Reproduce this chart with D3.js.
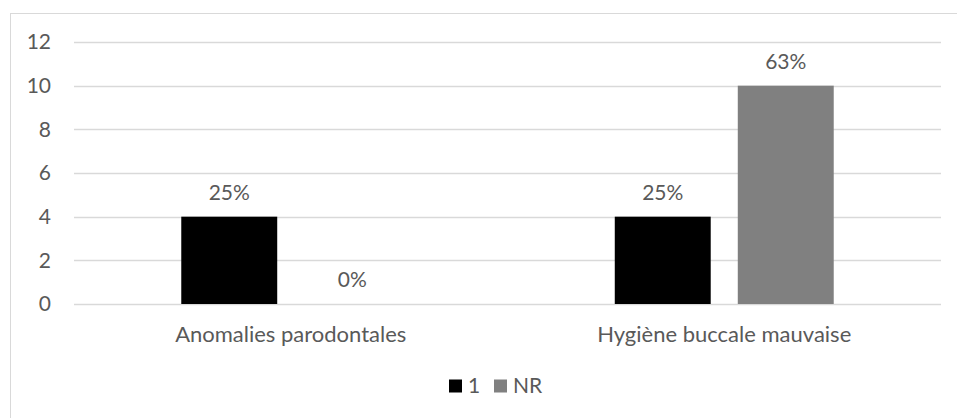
<!DOCTYPE html>
<html>
<head>
<meta charset="utf-8">
<script src="https://cdn.jsdelivr.net/npm/d3@7"></script>
<style>
  body { margin: 0; background: #fff; }
  text { font-family: Lato, "Open Sans", sans-serif; fill: #595959; }
</style>
</head>
<body>
<script>
// Data
var categories = ["Anomalies parodontales", "Hygiène buccale mauvaise"];
var seriesNames = ["1", "NR"];
var seriesColors = ["#000000", "#808080"];
var values1 = [4, 4];
var valuesNR = [0, 10];
var labels1 = ["25%", "25%"];
var labelsNR = ["0%", "63%"];
var yTicks = [0, 2, 4, 6, 8, 10, 12];

var W = 957, H = 418;
var margin = {top: 42, right: 16, bottom: 114, left: 74};
var width = W - margin.left - margin.right,
    height = H - margin.top - margin.bottom;
var fs = "21px";

var svg = d3.select("body").append("svg")
    .attr("width", W)
    .attr("height", H);

// chart border
svg.append("rect")
    .attr("x", 10.5).attr("y", 13.5)
    .attr("width", W).attr("height", H)
    .attr("fill", "none")
    .attr("stroke", "#d9d9d9")
    .attr("stroke-width", 1);

var g = svg.append("g")
    .attr("transform", `translate(${margin.left},${margin.top})`);

var x0 = d3.scaleBand().domain(categories).range([0, width]).padding(0);
var x1 = d3.scaleBand().domain(seriesNames)
    .range([0, x0.bandwidth()])
    .paddingInner(0.22)
    .paddingOuter(0.872);
var y = d3.scaleLinear().domain([0, 12]).range([height, 0]);

// gridlines
g.selectAll(".grid")
    .data(yTicks)
    .enter().append("line")
    .attr("x1", 0).attr("x2", width)
    .attr("y1", d => Math.round(y(d)) + 0.5)
    .attr("y2", d => Math.round(y(d)) + 0.5)
    .attr("stroke", "#d9d9d9")
    .attr("stroke-width", 1.3);

// y tick labels
g.selectAll(".ytick")
    .data(yTicks)
    .enter().append("text")
    .attr("x", -23)
    .attr("y", d => y(d))
    .attr("dy", "0.35em")
    .attr("text-anchor", "end")
    .style("font-size", fs)
    .text(d => d);

// build rows
var rows = categories.map((c, i) => ({
    cat: c,
    bars: [
        {s: "1", v: values1[i], label: labels1[i], color: seriesColors[0]},
        {s: "NR", v: valuesNR[i], label: labelsNR[i], color: seriesColors[1]}
    ]
}));

var groups = g.selectAll(".cat")
    .data(rows)
    .enter().append("g")
    .attr("transform", d => `translate(${x0(d.cat)},0)`);

groups.selectAll("rect")
    .data(d => d.bars)
    .enter().append("rect")
    .attr("x", d => x1(d.s))
    .attr("y", d => y(d.v))
    .attr("width", x1.bandwidth())
    .attr("height", d => height - y(d.v))
    .attr("fill", d => d.color);

groups.selectAll(".vlabel")
    .data(d => d.bars)
    .enter().append("text")
    .attr("x", d => x1(d.s) + x1.bandwidth() / 2)
    .attr("y", d => y(d.v) - 24)
    .attr("dy", "0.35em")
    .attr("text-anchor", "middle")
    .style("font-size", fs)
    .text(d => d.label);

// category labels
g.selectAll(".xlabel")
    .data(categories)
    .enter().append("text")
    .attr("x", d => x0(d) + x0.bandwidth() / 2)
    .attr("y", height + 30)
    .attr("dy", "0.35em")
    .attr("text-anchor", "middle")
    .style("font-size", "22px")
    .text(d => d);

// legend
var legendX = [449, 494];
var legend = svg.selectAll(".legend")
    .data(seriesNames)
    .enter().append("g")
    .attr("transform", (d, i) => `translate(${legendX[i]},${386})`);

legend.append("rect")
    .attr("x", 0).attr("y", -6.5)
    .attr("width", 13).attr("height", 13)
    .attr("fill", (d, i) => seriesColors[i]);

legend.append("text")
    .attr("x", 19)
    .attr("y", 0)
    .attr("dy", "0.35em")
    .style("font-size", fs)
    .text(d => d);
</script>
</body>
</html>
